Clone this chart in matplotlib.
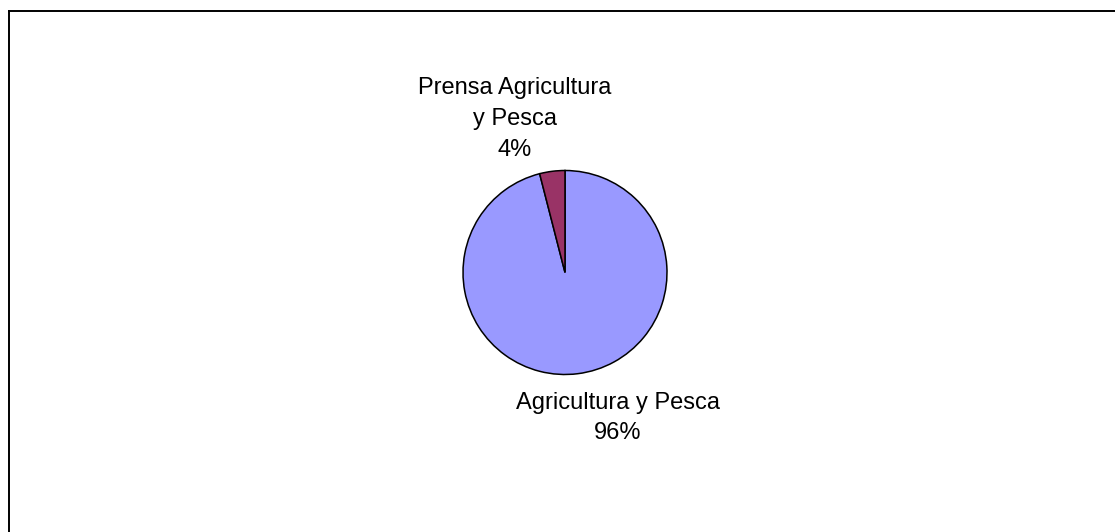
import matplotlib.pyplot as plt
from matplotlib.lines import Line2D

labels = ["Agricultura y Pesca", "Prensa Agricultura\ny Pesca"]
values = [96, 4]
colors = ["#9999FF", "#993366"]

W, H = 1115, 532
fig = plt.figure(figsize=(W / 100, H / 100), dpi=100)
plt.rcParams["font.family"] = ["Liberation Sans", "DejaVu Sans"]

# pie area in pixels: center (565, 272.5), radius 102
cx, cy, r = 565, 272.5, 102
ax = fig.add_axes([(cx - r) / W, 1 - (cy + r) / H, 2 * r / W, 2 * r / H])
ax.pie(values, colors=colors, startangle=90, counterclock=False,
       wedgeprops=dict(edgecolor="black", linewidth=1.1), radius=1)
ax.set_xlim(-1, 1)
ax.set_ylim(-1, 1)
ax.axis("off")

# data labels
fig.text(515 / W, 1 - 119 / H, f"{labels[1]}\n{values[1]}%", ha="center", va="center",
         fontsize=17, linespacing=1.54)
fig.text(618 / W, 1 - 418 / H, f"{labels[0]}\n{values[0]}%", ha="center", va="center",
         fontsize=17, linespacing=1.45)

# chart area border (only top/left visible)
fig.add_artist(Line2D([8.5 / W, 8.5 / W], [0, 1 - 11 / H], color="black", linewidth=1.4,
                      transform=fig.transFigure))
fig.add_artist(Line2D([8.5 / W, 1], [1 - 11 / H, 1 - 11 / H], color="black", linewidth=1.4,
                      transform=fig.transFigure))

fig.savefig("out.png", dpi=100)
